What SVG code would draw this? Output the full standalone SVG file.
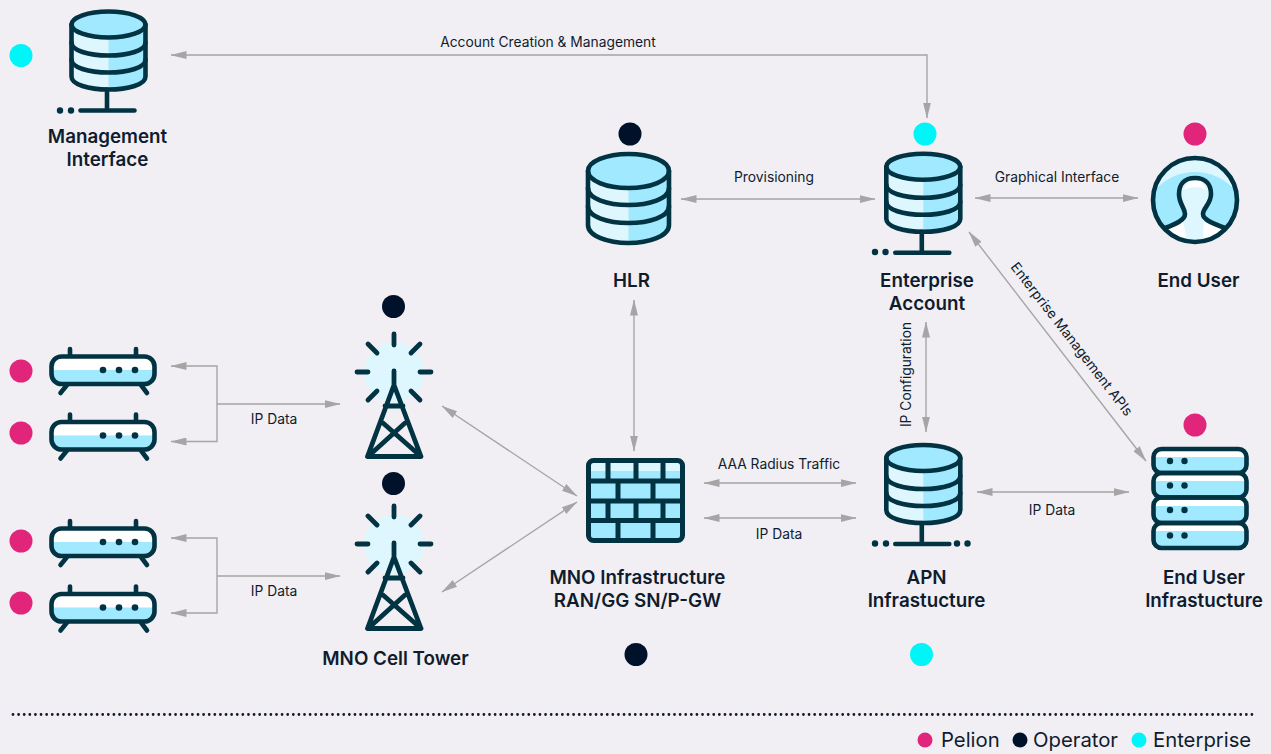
<svg xmlns="http://www.w3.org/2000/svg" width="1271" height="754" viewBox="0 0 1271 754">
<style>
text{font-family:Inter,"Liberation Sans",sans-serif;fill:#0f1c2e}
.lb{font-size:18.800px;font-weight:600;text-anchor:middle}
.cl{font-size:13.800px;text-anchor:middle}
.lg{font-size:20.300px}
.c{fill:none;stroke:#a5a5a5;stroke-width:1.4}
.i{fill:none;stroke:#023343;stroke-width:4.600;stroke-linecap:round;stroke-linejoin:round}
.d{fill:#023343}
.bl{fill:#a0e9ff}
.lt{fill:#def7fe}
.pk{fill:#e0257b}.op{fill:#00112a}.en{fill:#00f5f8}
</style>
<defs>
<marker id="a" viewBox="0 0 16 8" markerUnits="userSpaceOnUse" markerWidth="16" markerHeight="8" refX="15.500" refY="4" orient="auto-start-reverse"><path d="M0,0L16,4L0,8Z" fill="#a5a5a5"/></marker>
<g id="db">
<path class="lt" d="M-37,0V52C-37,60,-20,65,0,65V0Z"/>
<path class="bl" d="M0,-13C20,-13,37,-7,37,0V52C37,60,20,65,0,65Z"/>
<ellipse class="bl" cx="0" cy="0" rx="37" ry="13"/>
<path class="i" d="M-37,0V52C-37,60,-20,65,0,65S37,60,37,52V0"/>
<ellipse class="i" cx="0" cy="0" rx="37" ry="13"/>
<path class="i" d="M-37,18C-37,26,-20,31,0,31S37,26,37,18M-37,35C-37,43,-20,48,0,48S37,43,37,35"/>
</g>
<g id="stand">
<path class="i" d="M-1.500,65V86M-28,86H26"/>
</g>
<g id="router">
<rect x="2.500" y="2.500" width="103" height="27.500" rx="10" fill="#fff"/>
<path class="bl" d="M2.500,16H105.500V20C105.500,26,100,30,95,30H13C8,30,2.500,26,2.500,20Z"/>
<rect class="i" x="2.500" y="2.500" width="103" height="27.500" rx="10"/>
<path class="i" d="M21,-5V1M87,-5V1M18,31L11.500,39M92,31L98,39"/>
<circle class="d" cx="54" cy="16" r="3.300"/><circle class="d" cx="70" cy="16" r="3.300"/><circle class="d" cx="86" cy="16" r="3.300"/>
</g>
<g id="tower">
<ellipse class="lt" cx="0" cy="39.500" rx="30" ry="30"/>
<path class="i" style="stroke-width:4.800" d="M0,1V12M-37,39H-26M26,39H37M-26,11L-17,20M26,11L17,20M-26,67L-17,58M26,67L17,58M0,38V54M0,52L-26.500,123.500H27ZM-9,73H9M-11,90L27,123.500M11,90L-26,123.500"/>
</g>
</defs>

<rect width="1271" height="754" fill="#f1eff3"/>

<g id="connectors">
<path class="c" marker-start="url(#a)" marker-end="url(#a)" d="M171,55H927V118"/>
<path class="c" marker-start="url(#a)" marker-end="url(#a)" d="M681,199H875"/>
<path class="c" marker-start="url(#a)" marker-end="url(#a)" d="M975,198H1138"/>
<path class="c" marker-start="url(#a)" marker-end="url(#a)" d="M969,232L1146,461"/>
<path class="c" marker-start="url(#a)" marker-end="url(#a)" d="M926,322V432"/>
<path class="c" marker-start="url(#a)" marker-end="url(#a)" d="M634,300V451"/>
<path class="c" marker-start="url(#a)" marker-end="url(#a)" d="M704,483H856"/>
<path class="c" marker-start="url(#a)" marker-end="url(#a)" d="M704,518H856"/>
<path class="c" marker-start="url(#a)" marker-end="url(#a)" d="M977,492H1129"/>
<path class="c" marker-start="url(#a)" marker-end="url(#a)" d="M442,406L577,496"/>
<path class="c" marker-start="url(#a)" marker-end="url(#a)" d="M442,592L577,502"/>
<path class="c" marker-start="url(#a)" marker-end="url(#a)" d="M171,366H217V441.500H171"/>
<path class="c" marker-end="url(#a)" d="M217,404H340"/>
<path class="c" marker-start="url(#a)" marker-end="url(#a)" d="M171,538H217V613H171"/>
<path class="c" marker-end="url(#a)" d="M217,576H340"/>
<text class="cl" x="548" y="47">Account Creation &amp; Management</text>
<text class="cl" x="774" y="182">Provisioning</text>
<text class="cl" x="1057" y="182">Graphical Interface</text>
<text class="cl" transform="translate(1068,342) rotate(52.300)">Enterprise Management APIs</text>
<text class="cl" transform="translate(911,374.500) rotate(-90)">IP Configuration</text>
<text class="cl" x="779" y="469">AAA Radius Traffic</text>
<text class="cl" x="779" y="539">IP Data</text>
<text class="cl" x="1052" y="515">IP Data</text>
<text class="cl" x="274" y="424">IP Data</text>
<text class="cl" x="274" y="596">IP Data</text>
</g>

<g id="management-interface">
<circle class="en" cx="21" cy="55.500" r="11.500"/>
<use href="#db" x="108.500" y="24.500"/><use href="#stand" x="108.500" y="24.500"/>
<circle class="d" cx="60" cy="110.500" r="3.200"/><circle class="d" cx="71" cy="110.500" r="3.200"/>
<text class="lb" x="107.500" y="143">Management</text><text class="lb" x="107.500" y="166">Interface</text>
</g>

<g id="hlr">
<circle class="op" cx="630" cy="134" r="11.500"/>
<path class="lt" d="M588,171V225C588,236,608,243,628.500,243V171Z"/>
<path class="bl" d="M628.500,154C650,154,669,161,669,171V225C669,236,650,243,628.500,243Z"/>
<ellipse class="bl" cx="628.500" cy="171" rx="40.500" ry="17"/>
<path class="i" d="M588,171V225C588,236,608,243,628.500,243S669,236,669,225V171"/>
<ellipse class="i" cx="628.500" cy="171" rx="40.500" ry="17"/>
<path class="i" d="M588,188C588,199,608,205,628.500,205S669,199,669,188M588,206C588,217,608,223,628.500,223S669,217,669,206"/>
<text class="lb" x="631.500" y="287">HLR</text>
</g>

<g id="enterprise-account">
<circle class="en" cx="925" cy="134" r="11.500"/>
<use href="#db" x="923.300" y="166.700"/><use href="#stand" x="923.300" y="166.700"/>
<circle class="d" cx="875" cy="252" r="3.200"/><circle class="d" cx="885.500" cy="252" r="3.200"/>
<text class="lb" x="927" y="287">Enterprise</text><text class="lb" x="927" y="310">Account</text>
</g>

<g id="end-user">
<circle class="pk" cx="1195" cy="134" r="11.500"/>
<clipPath id="cu"><circle cx="1195" cy="200" r="42"/></clipPath>
<g clip-path="url(#cu)">
<circle class="lt" cx="1195" cy="200" r="42"/>
<circle class="bl" cx="1195" cy="225" r="53"/>
<path class="lt" d="M1195,178C1183,178,1179,186,1179,194C1179,204,1185,208,1185,214C1185,220,1176,224,1165,228L1175,245H1215L1225,228C1214,224,1203,220,1203,214C1203,208,1211,204,1211,194C1211,186,1207,178,1195,178Z"/>
<path fill="#fff" d="M1184,190C1185,184,1190,180,1195,180C1200,180,1205,184,1206,190C1200,186,1190,186,1184,190ZM1167,229L1183,222C1185,232,1188,238,1184,244L1175,244ZM1223,229L1204,222C1203,232,1202,238,1206,244L1215,244Z"/>
</g>
<path class="i" d="M1195,178C1183,178,1179,186,1179,194C1179,204,1185,208,1185,214C1185,220,1176,224,1165,228M1195,178C1207,178,1211,186,1211,194C1211,204,1203,208,1203,214C1203,220,1214,224,1225,228"/>
<circle class="i" cx="1195" cy="200" r="42"/>
<text class="lb" x="1198.500" y="287">End User</text>
</g>

<g id="router-1">
<circle class="pk" cx="21" cy="371" r="11.500"/>
<use href="#router" x="49" y="354"/>
</g>
<g id="router-2">
<circle class="pk" cx="21" cy="433" r="11.500"/>
<use href="#router" x="49" y="419.500"/>
</g>
<g id="router-3">
<circle class="pk" cx="21" cy="541" r="11.500"/>
<use href="#router" x="49" y="526"/>
</g>
<g id="router-4">
<circle class="pk" cx="21" cy="603" r="11.500"/>
<use href="#router" x="49" y="591.500"/>
</g>

<g id="tower-1">
<circle class="op" cx="393.500" cy="306.500" r="11.500"/>
<use href="#tower" x="394" y="333"/>
</g>
<g id="mno-cell-tower">
<circle class="op" cx="393.500" cy="483.500" r="11.500"/>
<use href="#tower" x="394" y="505"/>
<text class="lb" x="395.500" y="665">MNO Cell Tower</text>
</g>

<g id="mno-infrastructure">
<rect x="588.500" y="460.500" width="94" height="80" rx="5" class="bl"/>
<rect x="589" y="462" width="93" height="9" class="lt"/>
<rect class="i" x="588.500" y="460.500" width="94" height="80" rx="5" style="stroke-width:5"/>
<path class="i" style="stroke-width:5;stroke-linecap:butt" d="M588,481H683M588,501H683M588,520.500H683M608,461V481M636,461V481M663,461V481M618,481V501M653,481V501M608,501V520M636,501V520M663,501V520M618,520V540M653,520V540"/>
<text class="lb" x="637.500" y="584">MNO Infrastructure</text><text class="lb" x="637.500" y="607">RAN/GG SN/P-GW</text>
<circle class="op" cx="636" cy="654.500" r="11.500"/>
</g>

<g id="apn-infrastructure">
<use href="#db" x="923.300" y="458"/><use href="#stand" x="923.300" y="458"/>
<circle class="d" cx="875" cy="543.500" r="3.200"/><circle class="d" cx="886" cy="543.500" r="3.200"/><circle class="d" cx="957" cy="543.500" r="3.200"/><circle class="d" cx="967.500" cy="543.500" r="3.200"/>
<text class="lb" x="926.500" y="584">APN</text><text class="lb" x="926.500" y="607">Infrastucture</text>
<circle class="en" cx="921.500" cy="654.500" r="11.500"/>
</g>

<g id="end-user-infrastucture">
<circle class="pk" cx="1195" cy="425" r="11.500"/>
<g>
<rect x="1153.500" y="449" width="93" height="23.500" rx="8" fill="#fff"/><path class="bl" d="M1155,457H1245V466Q1245,472,1238,472H1162Q1155,472,1155,466Z"/>
<rect x="1153.500" y="473" width="93" height="24" rx="8" fill="#fff"/><path class="bl" d="M1155,481H1245V491Q1245,497,1238,497H1162Q1155,497,1155,491Z"/>
<rect x="1153.500" y="497.500" width="93" height="25" rx="8" fill="#fff"/><path class="bl" d="M1155,506H1245V516Q1245,522,1238,522H1162Q1155,522,1155,516Z"/>
<rect x="1153.500" y="523" width="93" height="24.500" rx="8" fill="#fff"/><path class="bl" d="M1155,531H1245V541Q1245,547,1238,547H1162Q1155,547,1155,541Z"/>
<rect class="i" x="1153.500" y="449" width="93" height="24" rx="8"/>
<rect class="i" x="1153.500" y="473" width="93" height="24.500" rx="8"/>
<rect class="i" x="1153.500" y="497.500" width="93" height="25.500" rx="8"/>
<rect class="i" x="1153.500" y="523" width="93" height="25" rx="8"/>
</g>
<circle class="d" cx="1170" cy="461" r="3.200"/><circle class="d" cx="1184.500" cy="461" r="3.200"/>
<circle class="d" cx="1170" cy="485.500" r="3.200"/><circle class="d" cx="1184.500" cy="485.500" r="3.200"/>
<circle class="d" cx="1170" cy="510" r="3.200"/><circle class="d" cx="1184.500" cy="510" r="3.200"/>
<circle class="d" cx="1170" cy="535.500" r="3.200"/><circle class="d" cx="1184.500" cy="535.500" r="3.200"/>
<text class="lb" x="1204" y="584">End User</text><text class="lb" x="1204" y="607">Infrastucture</text>
</g>

<g id="legend">
<path d="M13,714.500H1252" fill="none" stroke="#0f1c2e" stroke-width="2.800" stroke-linecap="round" stroke-dasharray="0 5.606"/>
<circle class="pk" cx="925" cy="740" r="7.500"/><text class="lg" x="941" y="747">Pelion</text>
<circle class="op" cx="1020" cy="740" r="7.500"/><text class="lg" x="1033" y="747">Operator</text>
<circle class="en" cx="1139" cy="740" r="7.500"/><text class="lg" x="1153" y="747">Enterprise</text>
</g>
</svg>
